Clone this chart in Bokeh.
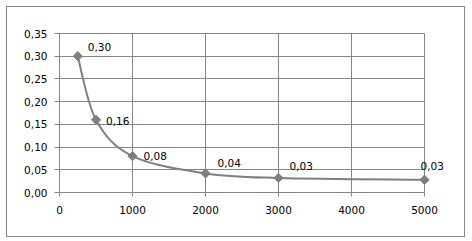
import math
from bokeh.plotting import figure
from bokeh.models import Range1d, FixedTicker, CustomJSTickFormatter, ColumnDataSource
from bokeh.core.properties import value
from bokeh.embed import file_html
from bokeh.resources import INLINE

# data
x_vals = [250, 500, 1000, 2000, 3000, 5000]
y_vals = [0.30, 0.16, 0.080, 0.042, 0.032, 0.028]
x_ticks = [0, 1000, 2000, 3000, 4000, 5000]
y_ticks = [0.00, 0.05, 0.10, 0.15, 0.20, 0.25, 0.30, 0.35]

GRID = "#868686"
SERIES = "#7f7f7f"
FONT = "DejaVu Sans"
FS = "10.5px"

g = f"linear-gradient({GRID},{GRID})"
border_css = ", ".join([
    f"{g} 6px 6px / 459px 1px no-repeat",
    f"{g} 6px 236px / 459px 1px no-repeat",
    f"{g} 6px 6px / 1px 231px no-repeat",
    f"{g} 464px 6px / 1px 231px no-repeat",
    "white",
])

p = figure(width=472, height=241, output_backend="svg", toolbar_location=None,
           x_range=Range1d(0, 5000), y_range=Range1d(0, 0.35),
           min_border_left=59, min_border_right=48, min_border_top=33, min_border_bottom=49,
           styles={"background": border_css})
p.background_fill_color = "white"
p.border_fill_alpha = 0
p.outline_line_color = GRID
p.outline_line_width = 1

for ax in (p.xaxis[0], p.yaxis[0]):
    ax.axis_line_color = GRID
    ax.major_tick_line_color = GRID
    ax.minor_tick_line_color = None
    ax.major_tick_in = 0
    ax.major_label_text_font = FONT
    ax.major_label_text_font_size = FS
    ax.major_label_text_color = "black"

p.xaxis.ticker = FixedTicker(ticks=x_ticks)
p.yaxis.ticker = FixedTicker(ticks=y_ticks)
p.xaxis.major_tick_out = 4
p.yaxis.major_tick_out = 5
p.xaxis.major_label_standoff = 9
p.yaxis.major_label_standoff = 7
p.yaxis.formatter = CustomJSTickFormatter(code="return tick.toFixed(2).replace('.', ',');")
p.xaxis.formatter = CustomJSTickFormatter(code="return tick.toFixed(0);")

p.xgrid.ticker = FixedTicker(ticks=x_ticks)
p.ygrid.ticker = FixedTicker(ticks=y_ticks)
p.grid.grid_line_color = GRID
p.grid.grid_line_width = 1

# smoothed line (Catmull-Rom Bezier segments through the data points)
n = len(x_vals)
x0s, y0s, x1s, y1s, cx0, cy0, cx1, cy1 = [], [], [], [], [], [], [], []
for i in range(n - 1):
    xp, yp = (x_vals[i - 1], y_vals[i - 1]) if i > 0 else (x_vals[i], y_vals[i])
    xn, yn = (x_vals[i + 2], y_vals[i + 2]) if i + 2 < n else (x_vals[i + 1], y_vals[i + 1])
    x0s.append(x_vals[i]); y0s.append(y_vals[i])
    x1s.append(x_vals[i + 1]); y1s.append(y_vals[i + 1])
    cx0.append(x_vals[i] + (x_vals[i + 1] - xp) / 6)
    cy0.append(y_vals[i] + (y_vals[i + 1] - yp) / 6)
    cx1.append(x_vals[i + 1] - (xn - x_vals[i]) / 6)
    cy1.append(y_vals[i + 1] - (yn - y_vals[i]) / 6)

p.bezier(x0=x0s, y0=y0s, x1=x1s, y1=y1s, cx0=cx0, cy0=cy0, cx1=cx1, cy1=cy1,
         line_color=SERIES, line_width=2, level="overlay")

p.scatter(x_vals, y_vals, marker="square", size=6.5, angle=math.pi / 4,
          fill_color=SERIES, line_color=SERIES, level="overlay")

labels = [f"{v:.2f}".replace(".", ",") for v in y_vals]
dx = [10, 10, 11, 12, 11, -4]
dy = [-9, 1, 0, -10, -12, -14]
src = ColumnDataSource(dict(x=x_vals, y=y_vals, t=labels, dx=dx, dy=dy))
p.text(x="x", y="y", text="t", x_offset="dx", y_offset="dy", source=src,
       text_font=value(FONT), text_font_size=FS, text_color="black",
       text_align="left", text_baseline="middle", level="overlay")

open("out.html", "w").write(file_html(p, INLINE))
